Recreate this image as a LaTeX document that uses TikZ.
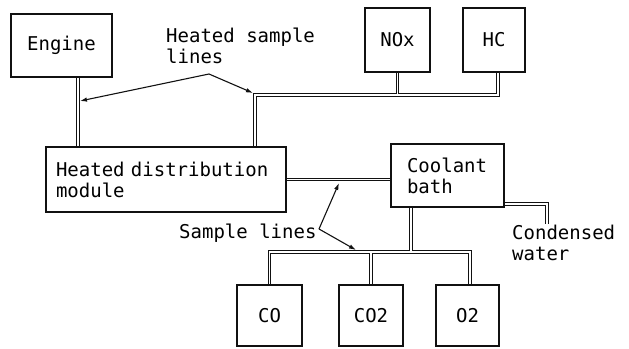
\documentclass[tikz,border=0pt]{standalone}
\usepackage{fontspec}
\setmonofont{DejaVu Sans Mono}
\usepackage{tikz}
\usetikzlibrary{arrows.meta,calc,backgrounds}
\definecolor{inkline}{HTML}{111111}
\tikzset{every node/.append style={font=\ttfamily\fontsize{19}{21}\selectfont}}
\tikzset{
  unitbox/.style={draw=inkline,line width=1.2pt,rectangle,inner sep=0pt},
  pipeout/.style={draw=inkline,line width=3.8pt},
  pipein/.style={draw=white,line width=1.6pt},
  pointer/.style={draw=inkline,line width=1.1pt,-{Latex[length=7pt,width=4.5pt]}},
}

\begin{document}
\begin{tikzpicture}[x=1pt,y=-1pt]
  \useasboundingbox (0,0) rectangle (629,348);
  % units and analysers
  \node[unitbox,minimum width=101pt,minimum height=63pt] (engine) at (61.5,45.5) {Engine};
  \node[unitbox,minimum width=65pt,minimum height=64pt] (nox) at (397.5,40) {NOx};
  \node[unitbox,minimum width=62pt,minimum height=64pt] (hc) at (494,40) {HC};
  \node[unitbox,minimum width=240pt,minimum height=65pt,align=left,
        text width=220pt,inner xsep=10pt] (hdm) at (166,179.5) {Heated distribution\\module};
  \node[unitbox,minimum width=113pt,minimum height=63pt,align=left,
        text width=81pt,inner xsep=16pt] (cool) at (447.5,175.5) {Coolant\\bath};
  \node[unitbox,minimum width=65pt,minimum height=61pt] (co) at (269.5,315.5) {CO};
  \node[unitbox,minimum width=64pt,minimum height=61pt] (co2) at (371,315.5) {CO2};
  \node[unitbox,minimum width=63pt,minimum height=61pt] (o2) at (467.5,315.5) {O2};
  % labels
  \node[align=left,anchor=north west,inner sep=0pt] (hsl) at (166,28) {Heated sample\\lines};
  \node[anchor=west,inner sep=0pt] (sl) at (179,233) {Sample lines};
  \node[align=left,anchor=north west,inner sep=0pt] (cw) at (512,225) {Condensed\\water};
  % bends and ends
  \coordinate (riser) at (255,95);
  \coordinate (drain) at (547,204);
  \coordinate (drainend) at (547,224);
  \coordinate (split) at (411,252);
  \coordinate (hslapex) at (209,74);
  \coordinate (hsltipa) at (80,101);
  \coordinate (hsltipb) at (253,93);
  \coordinate (slapex) at (319,229);
  \coordinate (sltipa) at (339,183);
  \coordinate (sltipb) at (356,250);
  % sample pipes, outline first then the bore
  \begin{scope}[on background layer]
  \foreach \layer in {pipeout,pipein}{
    \draw[\layer] ([xshift=16.5pt]engine.south) -- ([xshift=16.5pt]engine.south |- hdm.north);
    \draw[\layer] (riser |- hdm.north) -- (riser) -- ([xshift=4pt]hc.south |- riser)
      -- ([xshift=4pt]hc.south);
    \draw[\layer] (nox.south) -- (nox.south |- riser);
    \draw[\layer] (hdm.east) -- (hdm.east -| cool.west);
    \draw[\layer] (drain -| cool.east) -- (drain) -- (drainend);
    \draw[\layer] (split |- cool.south) -- (split);
    \draw[\layer] (co.north) -- (co.north |- split) -- ([xshift=2.5pt]o2.north |- split)
      -- ([xshift=2.5pt]o2.north);
    \draw[\layer] (co2.north) -- (co2.north |- split);
  }
  \end{scope}
  % leaders
  \draw[pointer] (hslapex) -- (hsltipa);
  \draw[pointer] (hslapex) -- (hsltipb);
  \draw[pointer] (slapex) -- (sltipa);
  \draw[pointer] (slapex) -- (sltipb);
\end{tikzpicture}
\end{document}
